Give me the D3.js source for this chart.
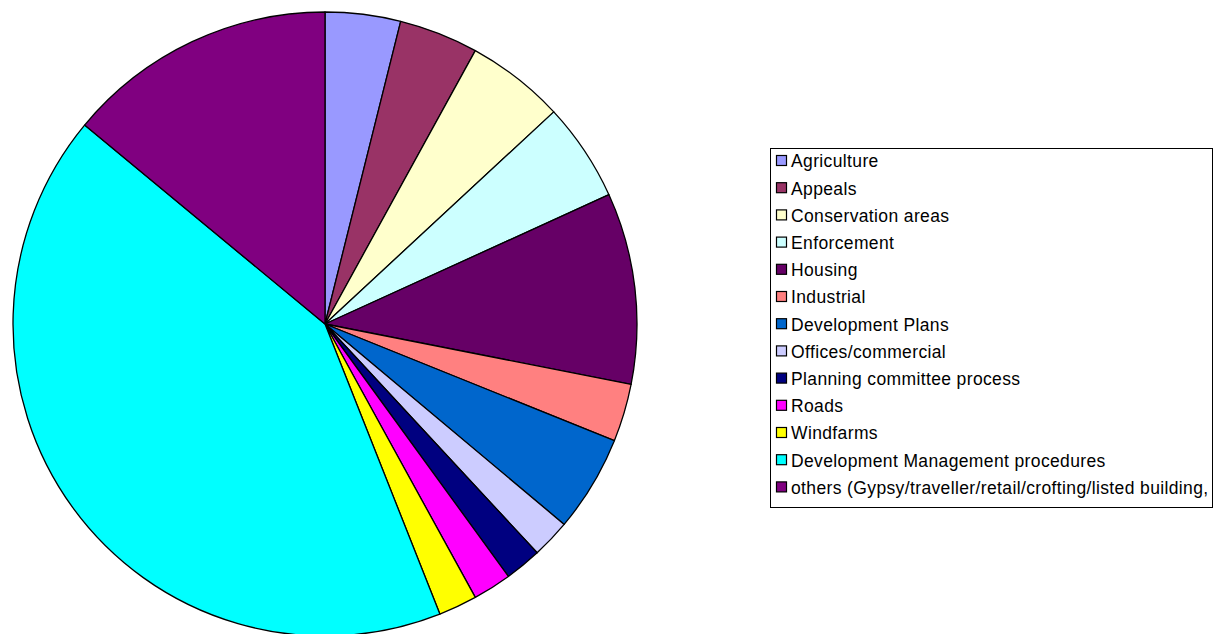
<!DOCTYPE html>
<html><head><meta charset="utf-8">
<script src="https://cdn.jsdelivr.net/npm/d3@7"></script>
<style>body{margin:0;background:#fff}svg{display:block}</style>
</head><body>
<svg id="c" width="1218" height="634"></svg>
<script>
const categories = ["Agriculture","Appeals","Conservation areas","Enforcement","Housing","Industrial","Development Plans","Offices/commercial","Planning committee process","Roads","Windfarms","Development Management procedures","others (Gypsy/traveller/retail/crofting/listed building,"];
const values = [3.9,4.1,5.1,5.1,9.9,3.0,5.0,2.0,1.9,2.0,2.0,42.0,14.0];
const colors = ["#9999FF","#993366","#FFFFCC","#CCFFFF","#660066","#FF8080","#0066CC","#CCCCFF","#000080","#FF00FF","#FFFF00","#00FFFF","#800080"];

const svg = d3.select("#c");
const cx = 325, cy = 324, r = 312;
const pie = d3.pie().sort(null).value(d => d.v);
const data = categories.map((c,i)=>({c, v: values[i], col: colors[i]}));
const arc = d3.arc().innerRadius(0).outerRadius(r);
svg.append("g").attr("transform",`translate(${cx},${cy})`)
  .selectAll("path").data(pie(data)).join("path")
  .attr("d", arc).attr("fill", d=>d.data.col)
  .attr("stroke","#000").attr("stroke-width",1.3).attr("stroke-linejoin","round");

// legend
const lx = 770.5, ly = 148.5, lw = 442, lh = 359;
svg.append("rect").attr("x",lx).attr("y",ly).attr("width",lw).attr("height",lh)
  .attr("fill","#fff").attr("stroke","#000").attr("stroke-width",1);
const lg = svg.append("g");
const step = 27.2;
const items = lg.selectAll("g").data(data).join("g")
  .attr("transform",(d,i)=>`translate(0,${161 + i*step})`);
items.append("rect").attr("x",776.5).attr("y",-5.5).attr("width",10).attr("height",10)
  .attr("fill",d=>d.col).attr("stroke","#000").attr("stroke-width",1.2);
items.append("text").attr("x",791).attr("y",0).attr("dy","0.36em")
  .attr("font-family","Liberation Sans, Arial, sans-serif")
  .attr("fill","#000").attr("letter-spacing","0.37px").text(d=>d.c)
  .style("font-size","17.5px");
</script>
</body></html>
